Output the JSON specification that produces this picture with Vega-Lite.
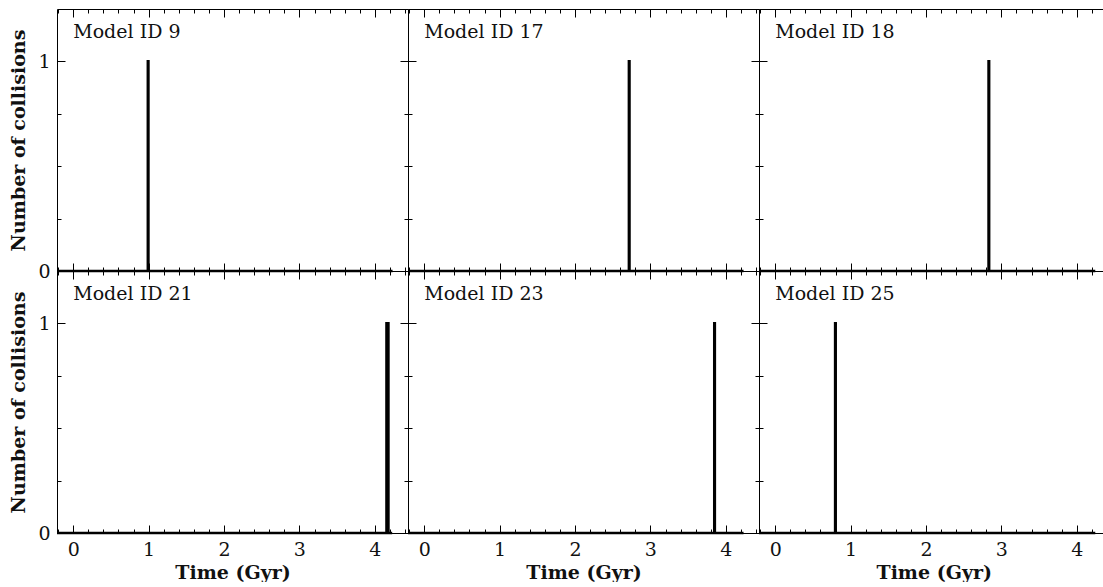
{
  "$schema": "https://vega.github.io/schema/vega-lite/v6.json",
  "padding": {"left": 9, "top": 8, "right": 0, "bottom": 0},
  "columns": 3,
  "spacing": 0,
  "bounds": "flush",
  "config": {
    "view": {"stroke": null},
    "font": "DejaVu Serif",
    "axis": {
      "grid": false,
      "domainColor": "black",
      "domainWidth": 1,
      "tickColor": "black",
      "tickWidth": 1,
      "labelFont": "DejaVu Serif",
      "labelFontSize": 19,
      "labelColor": "#111111",
      "labelFlush": false,
      "labelOverlap": false,
      "labelPadding": 15,
      "titleFont": "DejaVu Serif",
      "titleFontSize": 19,
      "titleFontWeight": "bold",
      "titleColor": "#111111"
    },
    "axisX": {"titlePadding": 0},
    "axisY": {"titlePadding": 9}
  },
  "datasets": {
    "hist": [
      {"model": 9, "i": 0, "t": -0.215, "n": 0},
      {"model": 9, "i": 1, "t": 0.99, "n": 0},
      {"model": 9, "i": 2, "t": 0.99, "n": 1},
      {"model": 9, "i": 3, "t": 0.997, "n": 1},
      {"model": 9, "i": 4, "t": 0.997, "n": 0},
      {"model": 9, "i": 5, "t": 4.235, "n": 0},
      {"model": 17, "i": 0, "t": -0.215, "n": 0},
      {"model": 17, "i": 1, "t": 2.715, "n": 0},
      {"model": 17, "i": 2, "t": 2.715, "n": 1},
      {"model": 17, "i": 3, "t": 2.722, "n": 1},
      {"model": 17, "i": 4, "t": 2.722, "n": 0},
      {"model": 17, "i": 5, "t": 4.235, "n": 0},
      {"model": 18, "i": 0, "t": -0.215, "n": 0},
      {"model": 18, "i": 1, "t": 2.83, "n": 0},
      {"model": 18, "i": 2, "t": 2.83, "n": 1},
      {"model": 18, "i": 3, "t": 2.837, "n": 1},
      {"model": 18, "i": 4, "t": 2.837, "n": 0},
      {"model": 18, "i": 5, "t": 4.245, "n": 0},
      {"model": 21, "i": 0, "t": -0.215, "n": 0},
      {"model": 21, "i": 1, "t": 4.155, "n": 0},
      {"model": 21, "i": 2, "t": 4.155, "n": 1},
      {"model": 21, "i": 3, "t": 4.18, "n": 1},
      {"model": 21, "i": 4, "t": 4.18, "n": 0},
      {"model": 21, "i": 5, "t": 4.23, "n": 0},
      {"model": 23, "i": 0, "t": -0.215, "n": 0},
      {"model": 23, "i": 1, "t": 3.847, "n": 0},
      {"model": 23, "i": 2, "t": 3.847, "n": 1},
      {"model": 23, "i": 3, "t": 3.854, "n": 1},
      {"model": 23, "i": 4, "t": 3.854, "n": 0},
      {"model": 23, "i": 5, "t": 4.235, "n": 0},
      {"model": 25, "i": 0, "t": -0.215, "n": 0},
      {"model": 25, "i": 1, "t": 0.795, "n": 0},
      {"model": 25, "i": 2, "t": 0.795, "n": 1},
      {"model": 25, "i": 3, "t": 0.802, "n": 1},
      {"model": 25, "i": 4, "t": 0.802, "n": 0},
      {"model": 25, "i": 5, "t": 4.245, "n": 0}
    ]
  },
  "concat": [
    {
      "width": 351, "height": 262,
      "resolve": {"axis": {"x": "independent", "y": "independent"}},
      "layer": [
        {"data": {"name": "hist"}, "transform": [{"filter": "datum.model == 9"}],
         "mark": {"type": "line", "color": "black", "strokeWidth": 2.6, "clip": false},
         "encoding": {
           "x": {"field": "t", "type": "quantitative", "scale": {"domain": [-0.215, 4.44], "nice": false, "zero": false},
                 "axis": {"orient": "bottom", "values": [-0.2,0,0.2,0.4,0.6,0.8,1,1.2,1.4,1.6,1.8,2,2.2,2.4,2.6,2.8,3,3.2,3.4,3.6,3.8,4,4.2,4.4], "tickSize": {"condition": {"test": "abs(datum.value-round(datum.value))<0.01", "value": -8}, "value": -4}, "labels": false, "title": null}},
           "y": {"field": "n", "type": "quantitative", "scale": {"domain": [0, 1.25], "nice": false},
                 "axis": {"orient": "left", "values": [0,0.25,0.5,0.75,1], "tickSize": {"condition": {"test": "datum.value % 1 == 0", "value": -8}, "value": -4}, "labelExpr": "datum.value % 1 == 0 ? format(datum.value,'d') : ''", "title": "Number of collisions"}},
           "order": {"field": "i"}
         }},
        {"data": {"name": "hist"}, "transform": [{"filter": "datum.model == 9"}],
         "mark": {"type": "line", "opacity": 0},
         "encoding": {
           "x": {"field": "t", "type": "quantitative",
                 "axis": {"orient": "top", "values": [-0.2,0,0.2,0.4,0.6,0.8,1,1.2,1.4,1.6,1.8,2,2.2,2.4,2.6,2.8,3,3.2,3.4,3.6,3.8,4,4.2,4.4], "tickSize": {"condition": {"test": "abs(datum.value-round(datum.value))<0.01", "value": -8}, "value": -4}, "labels": false, "title": null}},
           "y": {"field": "n", "type": "quantitative",
                 "axis": {"orient": "right", "values": [0,0.25,0.5,0.75,1], "tickSize": {"condition": {"test": "datum.value % 1 == 0", "value": -8}, "value": -4}, "labels": false, "title": null}},
           "order": {"field": "i"}
         }},
        {"data": {"values": [{"label": "Model ID 9"}]},
         "mark": {"type": "text", "align": "left", "baseline": "middle", "font": "DejaVu Serif", "fontSize": 19, "color": "#111111"},
         "encoding": {
           "x": {"datum": 0, "type": "quantitative", "axis": null},
           "y": {"datum": 1.138, "type": "quantitative", "axis": null},
           "text": {"field": "label"}
         }}
      ]
    },
    {
      "width": 351, "height": 262,
      "resolve": {"axis": {"x": "independent", "y": "independent"}},
      "layer": [
        {"data": {"name": "hist"}, "transform": [{"filter": "datum.model == 17"}],
         "mark": {"type": "line", "color": "black", "strokeWidth": 2.6, "clip": false},
         "encoding": {
           "x": {"field": "t", "type": "quantitative", "scale": {"domain": [-0.215, 4.44], "nice": false, "zero": false},
                 "axis": {"orient": "bottom", "values": [-0.2,0,0.2,0.4,0.6,0.8,1,1.2,1.4,1.6,1.8,2,2.2,2.4,2.6,2.8,3,3.2,3.4,3.6,3.8,4,4.2,4.4], "tickSize": {"condition": {"test": "abs(datum.value-round(datum.value))<0.01", "value": -8}, "value": -4}, "labels": false, "title": null}},
           "y": {"field": "n", "type": "quantitative", "scale": {"domain": [0, 1.25], "nice": false},
                 "axis": {"orient": "left", "values": [0,0.25,0.5,0.75,1], "tickSize": {"condition": {"test": "datum.value % 1 == 0", "value": -8}, "value": -4}, "labels": false, "title": null}},
           "order": {"field": "i"}
         }},
        {"data": {"name": "hist"}, "transform": [{"filter": "datum.model == 17"}],
         "mark": {"type": "line", "opacity": 0},
         "encoding": {
           "x": {"field": "t", "type": "quantitative",
                 "axis": {"orient": "top", "values": [-0.2,0,0.2,0.4,0.6,0.8,1,1.2,1.4,1.6,1.8,2,2.2,2.4,2.6,2.8,3,3.2,3.4,3.6,3.8,4,4.2,4.4], "tickSize": {"condition": {"test": "abs(datum.value-round(datum.value))<0.01", "value": -8}, "value": -4}, "labels": false, "title": null}},
           "y": {"field": "n", "type": "quantitative",
                 "axis": {"orient": "right", "values": [0,0.25,0.5,0.75,1], "tickSize": {"condition": {"test": "datum.value % 1 == 0", "value": -8}, "value": -4}, "labels": false, "title": null}},
           "order": {"field": "i"}
         }},
        {"data": {"values": [{"label": "Model ID 17"}]},
         "mark": {"type": "text", "align": "left", "baseline": "middle", "font": "DejaVu Serif", "fontSize": 19, "color": "#111111"},
         "encoding": {
           "x": {"datum": 0, "type": "quantitative", "axis": null},
           "y": {"datum": 1.138, "type": "quantitative", "axis": null},
           "text": {"field": "label"}
         }}
      ]
    },
    {
      "width": 346, "height": 262,
      "resolve": {"axis": {"x": "independent", "y": "independent"}},
      "layer": [
        {"data": {"name": "hist"}, "transform": [{"filter": "datum.model == 18"}],
         "mark": {"type": "line", "color": "black", "strokeWidth": 2.6, "clip": false},
         "encoding": {
           "x": {"field": "t", "type": "quantitative", "scale": {"domain": [-0.215, 4.374], "nice": false, "zero": false},
                 "axis": {"orient": "bottom", "values": [-0.2,0,0.2,0.4,0.6,0.8,1,1.2,1.4,1.6,1.8,2,2.2,2.4,2.6,2.8,3,3.2,3.4,3.6,3.8,4,4.2], "tickSize": {"condition": {"test": "abs(datum.value-round(datum.value))<0.01", "value": -8}, "value": -4}, "labels": false, "title": null}},
           "y": {"field": "n", "type": "quantitative", "scale": {"domain": [0, 1.25], "nice": false},
                 "axis": {"orient": "left", "values": [0,0.25,0.5,0.75,1], "tickSize": {"condition": {"test": "datum.value % 1 == 0", "value": -8}, "value": -4}, "labels": false, "title": null}},
           "order": {"field": "i"}
         }},
        {"data": {"name": "hist"}, "transform": [{"filter": "datum.model == 18"}],
         "mark": {"type": "line", "opacity": 0},
         "encoding": {
           "x": {"field": "t", "type": "quantitative",
                 "axis": {"orient": "top", "values": [-0.2,0,0.2,0.4,0.6,0.8,1,1.2,1.4,1.6,1.8,2,2.2,2.4,2.6,2.8,3,3.2,3.4,3.6,3.8,4,4.2], "tickSize": {"condition": {"test": "abs(datum.value-round(datum.value))<0.01", "value": -8}, "value": -4}, "labels": false, "title": null}},
           "y": {"field": "n", "type": "quantitative", "axis": null},
           "order": {"field": "i"}
         }},
        {"data": {"values": [{"label": "Model ID 18"}]},
         "mark": {"type": "text", "align": "left", "baseline": "middle", "font": "DejaVu Serif", "fontSize": 19, "color": "#111111"},
         "encoding": {
           "x": {"datum": 0, "type": "quantitative", "axis": null},
           "y": {"datum": 1.138, "type": "quantitative", "axis": null},
           "text": {"field": "label"}
         }}
      ]
    },
    {
      "width": 351, "height": 262,
      "resolve": {"axis": {"x": "independent", "y": "independent"}},
      "layer": [
        {"data": {"name": "hist"}, "transform": [{"filter": "datum.model == 21"}],
         "mark": {"type": "line", "color": "black", "strokeWidth": 2.6, "clip": false},
         "encoding": {
           "x": {"field": "t", "type": "quantitative", "scale": {"domain": [-0.215, 4.44], "nice": false, "zero": false},
                 "axis": {"orient": "bottom", "values": [-0.2,0,0.2,0.4,0.6,0.8,1,1.2,1.4,1.6,1.8,2,2.2,2.4,2.6,2.8,3,3.2,3.4,3.6,3.8,4,4.2,4.4], "tickSize": {"condition": {"test": "abs(datum.value-round(datum.value))<0.01", "value": -8}, "value": -4}, "labelExpr": "abs(datum.value-round(datum.value))<0.01 ? format(datum.value,'d') : ''", "title": "Time (Gyr)"}},
           "y": {"field": "n", "type": "quantitative", "scale": {"domain": [0, 1.25], "nice": false},
                 "axis": {"orient": "left", "values": [0,0.25,0.5,0.75,1], "tickSize": {"condition": {"test": "datum.value % 1 == 0", "value": -8}, "value": -4}, "labelExpr": "datum.value % 1 == 0 ? format(datum.value,'d') : ''", "title": "Number of collisions"}},
           "order": {"field": "i"}
         }},
        {"data": {"name": "hist"}, "transform": [{"filter": "datum.model == 21"}],
         "mark": {"type": "line", "opacity": 0},
         "encoding": {
           "x": {"field": "t", "type": "quantitative",
                 "axis": {"orient": "top", "values": [-0.2,0,0.2,0.4,0.6,0.8,1,1.2,1.4,1.6,1.8,2,2.2,2.4,2.6,2.8,3,3.2,3.4,3.6,3.8,4,4.2,4.4], "tickSize": {"condition": {"test": "abs(datum.value-round(datum.value))<0.01", "value": -8}, "value": -4}, "labels": false, "title": null}},
           "y": {"field": "n", "type": "quantitative",
                 "axis": {"orient": "right", "values": [0,0.25,0.5,0.75,1], "tickSize": {"condition": {"test": "datum.value % 1 == 0", "value": -8}, "value": -4}, "labels": false, "title": null}},
           "order": {"field": "i"}
         }},
        {"data": {"values": [{"label": "Model ID 21"}]},
         "mark": {"type": "text", "align": "left", "baseline": "middle", "font": "DejaVu Serif", "fontSize": 19, "color": "#111111"},
         "encoding": {
           "x": {"datum": 0, "type": "quantitative", "axis": null},
           "y": {"datum": 1.138, "type": "quantitative", "axis": null},
           "text": {"field": "label"}
         }}
      ]
    },
    {
      "width": 351, "height": 262,
      "resolve": {"axis": {"x": "independent", "y": "independent"}},
      "layer": [
        {"data": {"name": "hist"}, "transform": [{"filter": "datum.model == 23"}],
         "mark": {"type": "line", "color": "black", "strokeWidth": 2.6, "clip": false},
         "encoding": {
           "x": {"field": "t", "type": "quantitative", "scale": {"domain": [-0.215, 4.44], "nice": false, "zero": false},
                 "axis": {"orient": "bottom", "values": [-0.2,0,0.2,0.4,0.6,0.8,1,1.2,1.4,1.6,1.8,2,2.2,2.4,2.6,2.8,3,3.2,3.4,3.6,3.8,4,4.2,4.4], "tickSize": {"condition": {"test": "abs(datum.value-round(datum.value))<0.01", "value": -8}, "value": -4}, "labelExpr": "abs(datum.value-round(datum.value))<0.01 ? format(datum.value,'d') : ''", "title": "Time (Gyr)"}},
           "y": {"field": "n", "type": "quantitative", "scale": {"domain": [0, 1.25], "nice": false},
                 "axis": {"orient": "left", "values": [0,0.25,0.5,0.75,1], "tickSize": {"condition": {"test": "datum.value % 1 == 0", "value": -8}, "value": -4}, "labels": false, "title": null}},
           "order": {"field": "i"}
         }},
        {"data": {"name": "hist"}, "transform": [{"filter": "datum.model == 23"}],
         "mark": {"type": "line", "opacity": 0},
         "encoding": {
           "x": {"field": "t", "type": "quantitative",
                 "axis": {"orient": "top", "values": [-0.2,0,0.2,0.4,0.6,0.8,1,1.2,1.4,1.6,1.8,2,2.2,2.4,2.6,2.8,3,3.2,3.4,3.6,3.8,4,4.2,4.4], "tickSize": {"condition": {"test": "abs(datum.value-round(datum.value))<0.01", "value": -8}, "value": -4}, "labels": false, "title": null}},
           "y": {"field": "n", "type": "quantitative",
                 "axis": {"orient": "right", "values": [0,0.25,0.5,0.75,1], "tickSize": {"condition": {"test": "datum.value % 1 == 0", "value": -8}, "value": -4}, "labels": false, "title": null}},
           "order": {"field": "i"}
         }},
        {"data": {"values": [{"label": "Model ID 23"}]},
         "mark": {"type": "text", "align": "left", "baseline": "middle", "font": "DejaVu Serif", "fontSize": 19, "color": "#111111"},
         "encoding": {
           "x": {"datum": 0, "type": "quantitative", "axis": null},
           "y": {"datum": 1.138, "type": "quantitative", "axis": null},
           "text": {"field": "label"}
         }}
      ]
    },
    {
      "width": 346, "height": 262,
      "resolve": {"axis": {"x": "independent", "y": "independent"}},
      "layer": [
        {"data": {"name": "hist"}, "transform": [{"filter": "datum.model == 25"}],
         "mark": {"type": "line", "color": "black", "strokeWidth": 2.6, "clip": false},
         "encoding": {
           "x": {"field": "t", "type": "quantitative", "scale": {"domain": [-0.215, 4.374], "nice": false, "zero": false},
                 "axis": {"orient": "bottom", "values": [-0.2,0,0.2,0.4,0.6,0.8,1,1.2,1.4,1.6,1.8,2,2.2,2.4,2.6,2.8,3,3.2,3.4,3.6,3.8,4,4.2], "tickSize": {"condition": {"test": "abs(datum.value-round(datum.value))<0.01", "value": -8}, "value": -4}, "labelExpr": "abs(datum.value-round(datum.value))<0.01 ? format(datum.value,'d') : ''", "title": "Time (Gyr)", "titleAnchor": "start", "titleX": 117}},
           "y": {"field": "n", "type": "quantitative", "scale": {"domain": [0, 1.25], "nice": false},
                 "axis": {"orient": "left", "values": [0,0.25,0.5,0.75,1], "tickSize": {"condition": {"test": "datum.value % 1 == 0", "value": -8}, "value": -4}, "labels": false, "title": null}},
           "order": {"field": "i"}
         }},
        {"data": {"name": "hist"}, "transform": [{"filter": "datum.model == 25"}],
         "mark": {"type": "line", "opacity": 0},
         "encoding": {
           "x": {"field": "t", "type": "quantitative",
                 "axis": {"orient": "top", "values": [-0.2,0,0.2,0.4,0.6,0.8,1,1.2,1.4,1.6,1.8,2,2.2,2.4,2.6,2.8,3,3.2,3.4,3.6,3.8,4,4.2], "tickSize": {"condition": {"test": "abs(datum.value-round(datum.value))<0.01", "value": -8}, "value": -4}, "labels": false, "title": null}},
           "y": {"field": "n", "type": "quantitative", "axis": null},
           "order": {"field": "i"}
         }},
        {"data": {"values": [{"label": "Model ID 25"}]},
         "mark": {"type": "text", "align": "left", "baseline": "middle", "font": "DejaVu Serif", "fontSize": 19, "color": "#111111"},
         "encoding": {
           "x": {"datum": 0, "type": "quantitative", "axis": null},
           "y": {"datum": 1.138, "type": "quantitative", "axis": null},
           "text": {"field": "label"}
         }}
      ]
    }
  ]
}
